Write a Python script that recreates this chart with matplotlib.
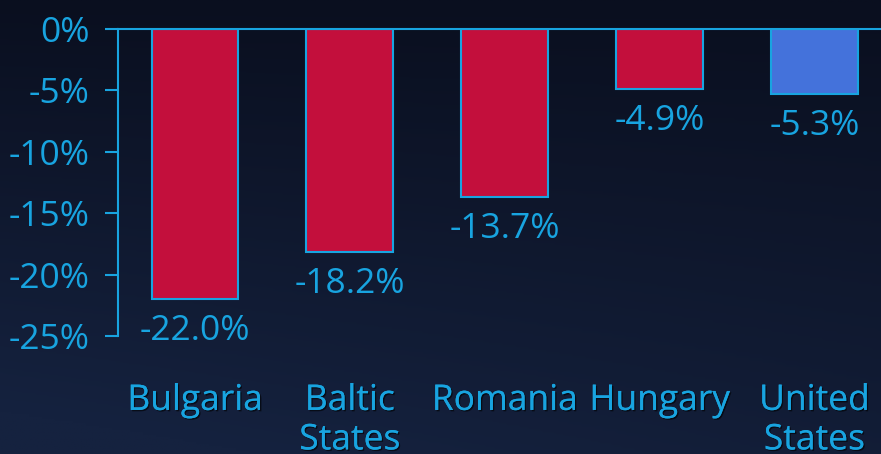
import numpy as np
import matplotlib
matplotlib.use("Agg")
import matplotlib.pyplot as plt
import matplotlib.patheffects as pe
from matplotlib.colors import LinearSegmentedColormap

categories = ["Bulgaria", "Baltic\nStates", "Romania", "Hungary", "United\nStates"]
values = [-22.0, -18.2, -13.7, -4.9, -5.3]
bar_colors = ["#c30f3c", "#c30f3c", "#c30f3c", "#c30f3c", "#4472db"]
yticks = [0, -5, -10, -15, -20, -25]
ytick_labels = ["0%", "-5%", "-10%", "-15%", "-20%", "-25%"]

CYAN = "#18a4e0"
plt.rcParams['font.family'] = ['Open Sans', 'DejaVu Sans']
FS = 25.5

fig = plt.figure(figsize=(8.81, 4.54), dpi=100)

# background gradient
bg = fig.add_axes([0, 0, 1, 1], zorder=-10)
yy, xx = np.mgrid[0:1:200j, 0:1:200j]
grad = np.clip(0.75 * yy + 0.35 * (1 - xx) * yy, 0, 1)
cmap = LinearSegmentedColormap.from_list("bg", ["#0a0f1f", "#15223f"])
bg.imshow(grad, cmap=cmap, aspect='auto', extent=[0, 1, 0, 1], origin='upper')
bg.axis('off')

ax = fig.add_axes([118/881, 1 - 336/454, 1 - 118/881, (336 - 29)/454])
ax.patch.set_alpha(0)

x = np.arange(len(categories))
bars = ax.bar(x, values, width=0.56, color=bar_colors, edgecolor=CYAN, linewidth=1.5, zorder=2)

ax.set_xlim(-0.497, 4.43)
ax.set_ylim(-25, 0)

shadow = [pe.withSimplePatchShadow(offset=(1, -1), shadow_rgbFace="#000000", alpha=0.6), pe.Normal()]

for xi, v in zip(x, values):
    ax.annotate(f"{v:.1f}%", (xi, v), xytext=(0, -10.5), textcoords="offset points",
                ha="center", va="top", color=CYAN, fontsize=FS, clip_on=False)

ax.axhline(0, color=CYAN, linewidth=1.5, zorder=3, clip_on=False)

for s in ["top", "right", "bottom"]:
    ax.spines[s].set_visible(False)
ax.spines["left"].set_color(CYAN)
ax.spines["left"].set_linewidth(1.5)

ax.set_yticks(yticks)
ax.set_yticklabels(ytick_labels)
ax.tick_params(axis="y", colors=CYAN, labelsize=FS, length=9.5, width=1.5, pad=11)
ax.tick_params(axis="y", labelcolor=CYAN)

ax.set_xticks(x)
ax.set_xticklabels(categories, linespacing=1.21)
ax.tick_params(axis="x", length=0, pad=34.5, labelsize=FS, labelcolor=CYAN)
for lbl in ax.get_xticklabels():
    lbl.set_path_effects(shadow)

fig.savefig("out.png", dpi=100, facecolor="#0b1020")
